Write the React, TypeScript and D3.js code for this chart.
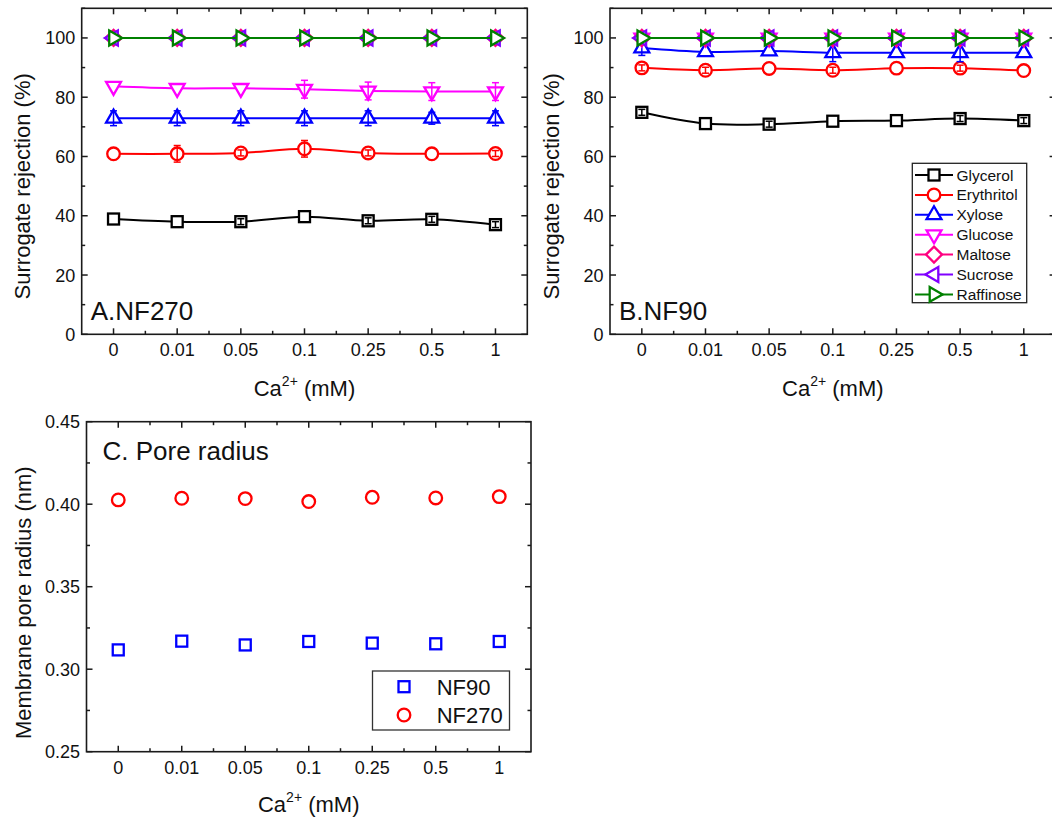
import React from 'react';
import * as d3 from 'd3';

// ---------- data ----------
const categories = ['0', '0.01', '0.05', '0.1', '0.25', '0.5', '1'];
const seriesNames = ['Glycerol', 'Erythritol', 'Xylose', 'Glucose', 'Maltose', 'Sucrose', 'Raffinose'];
const seriesColors = ['#000000', '#ff0000', '#0000ff', '#ff00ff', '#ff0080', '#8000ff', '#008000'];
const seriesShapes = ['square', 'circle', 'up', 'down', 'diamond', 'left', 'right'];

// Panel A: NF270 rejection (%)
const nf270Glycerol = [38.9, 38.0, 38.0, 39.7, 38.3, 38.8, 37.0];
const nf270GlycerolErr = [0, 0, 1, 0, 1, 1, 1];
const nf270Erythritol = [60.9, 60.9, 61.2, 62.6, 61.2, 60.9, 61.0];
const nf270ErythritolErr = [0, 2.8, 1, 2.8, 1, 0, 1];
const nf270Xylose = [72.9, 72.9, 72.9, 72.9, 72.9, 72.9, 72.9];
const nf270XyloseErr = [2.5, 2.5, 2.5, 2.5, 2.5, 2, 2.5];
const nf270Glucose = [83.7, 83.0, 83.0, 82.7, 82.1, 81.9, 81.9];
const nf270GlucoseErr = [0, 0, 0, 3, 3, 3, 3];
const nf270Maltose = [100, 100, 100, 100, 100, 100, 100];
const nf270Sucrose = [100, 100, 100, 100, 100, 100, 100];
const nf270Raffinose = [100, 100, 100, 100, 100, 100, 100];
const nf270NoErr = [0, 0, 0, 0, 0, 0, 0];

// Panel B: NF90 rejection (%)
const nf90Glycerol = [74.9, 71.1, 70.9, 71.9, 72.1, 72.8, 72.1];
const nf90GlycerolErr = [1, 0, 1, 0, 0, 1, 1];
const nf90Erythritol = [89.9, 89.1, 89.7, 89.1, 89.8, 89.8, 89.0];
const nf90ErythritolErr = [1, 1, 0, 1, 0, 1, 0];
const nf90Xylose = [96.6, 95.3, 95.6, 95.0, 95.0, 95.0, 95.0];
const nf90XyloseErr = [2.5, 0, 0, 3, 0, 3, 0];
const nf90Glucose = [100, 100, 100, 100, 100, 100, 100];
const nf90Maltose = [100, 100, 100, 100, 100, 100, 100];
const nf90Sucrose = [100, 100, 100, 100, 100, 100, 100];
const nf90Raffinose = [100, 100, 100, 100, 100, 100, 100];
const nf90NoErr = [0, 0, 0, 0, 0, 0, 0];

// Panel C: pore radius (nm)
const poreNF90 = [0.3117, 0.317, 0.3147, 0.3168, 0.3158, 0.3154, 0.3168];
const poreNF270 = [0.4026, 0.4036, 0.4034, 0.4016, 0.4042, 0.4038, 0.4046];

const rejTicks = [0, 20, 40, 60, 80, 100];
const rejMinor = [10, 30, 50, 70, 90, 110];
const poreTicks = [0.25, 0.3, 0.35, 0.4, 0.45];
const poreMinor = [0.275, 0.325, 0.375, 0.425];

const panelA = [
  [nf270Glycerol, nf270GlycerolErr],
  [nf270Erythritol, nf270ErythritolErr],
  [nf270Xylose, nf270XyloseErr],
  [nf270Glucose, nf270GlucoseErr],
  [nf270Maltose, nf270NoErr],
  [nf270Sucrose, nf270NoErr],
  [nf270Raffinose, nf270NoErr],
];
const panelB = [
  [nf90Glycerol, nf90GlycerolErr],
  [nf90Erythritol, nf90ErythritolErr],
  [nf90Xylose, nf90XyloseErr],
  [nf90Glucose, nf90NoErr],
  [nf90Maltose, nf90NoErr],
  [nf90Sucrose, nf90NoErr],
  [nf90Raffinose, nf90NoErr],
];

const FONT = '"Liberation Sans", Arial, Helvetica, sans-serif';
const AXIS = '#1a1a1a';

function Marker({ shape, x, y, color, sw = 2.3 }: any) {
  const common = { fill: '#fff', stroke: color, strokeWidth: sw, strokeLinejoin: 'miter' as const };
  const tri = (r: number, angles: number[]) =>
    angles.map((a) => `${x + r * Math.cos(a)},${y + r * Math.sin(a)}`).join(' ');
  const d = Math.PI / 180;
  switch (shape) {
    case 'square':
      return <rect x={x - 5.5} y={y - 5.5} width={11} height={11} {...common} />;
    case 'circle':
      return <circle cx={x} cy={y} r={6.3} {...common} />;
    case 'up':
      return <polygon points={tri(8.6, [-90 * d, 30 * d, 150 * d])} {...common} />;
    case 'down':
      return <polygon points={tri(8.6, [90 * d, -30 * d, 210 * d])} {...common} />;
    case 'left':
      return <polygon points={tri(8.6, [180 * d, 60 * d, -60 * d])} {...common} />;
    case 'right':
      return <polygon points={tri(8.6, [0, 120 * d, -120 * d])} {...common} />;
    case 'diamond':
      return <polygon points={`${x},${y - 8} ${x + 8},${y} ${x},${y + 8} ${x - 8},${y}`} {...common} />;
    default:
      return null;
  }
}

function Frame({ left, right, top, bottom, x, y, yTicks, yMinor, fmt }: any) {
  const step = x.step();
  const maj = 6;
  const min = 3.5;
  const els: any[] = [];
  categories.forEach((c, i) => {
    const px = x(c);
    els.push(<line key={'xb' + i} x1={px} x2={px} y1={bottom} y2={bottom - maj} />);
    els.push(<line key={'xt' + i} x1={px} x2={px} y1={top} y2={top + maj} />);
    if (i < categories.length - 1) {
      const mx = px + step / 2;
      els.push(<line key={'xbm' + i} x1={mx} x2={mx} y1={bottom} y2={bottom - min} />);
      els.push(<line key={'xtm' + i} x1={mx} x2={mx} y1={top} y2={top + min} />);
    }
  });
  yTicks.forEach((t: number, i: number) => {
    const py = y(t);
    els.push(<line key={'yl' + i} x1={left} x2={left + maj} y1={py} y2={py} />);
    els.push(<line key={'yr' + i} x1={right} x2={right - maj} y1={py} y2={py} />);
  });
  yMinor.forEach((t: number, i: number) => {
    const py = y(t);
    els.push(<line key={'ylm' + i} x1={left} x2={left + min} y1={py} y2={py} />);
    els.push(<line key={'yrm' + i} x1={right} x2={right - min} y1={py} y2={py} />);
  });
  return (
    <g>
      <g stroke={AXIS} strokeWidth={1.5}>{els}</g>
      <rect x={left} y={top} width={right - left} height={bottom - top} fill="none" stroke={AXIS} strokeWidth={1.6} />
      <g fontFamily={FONT} fontSize={18} fill="#111">
        {categories.map((c, i) => (
          <text key={'xl' + i} x={x(c)} y={bottom + 22} textAnchor="middle">{c}</text>
        ))}
        {yTicks.map((t: number, i: number) => (
          <text key={'ylb' + i} x={left - 6.5} y={y(t)} dy="0.36em" textAnchor="end">{fmt(t)}</text>
        ))}
      </g>
    </g>
  );
}

function XTitle({ cx, baseline }: any) {
  return (
    <text x={cx} y={baseline} textAnchor="middle" fontFamily={FONT} fontSize={22} fill="#111">
      Ca<tspan fontSize={14} dy={-10}>2+</tspan>
      <tspan dy={10}> (mM)</tspan>
    </text>
  );
}

function YTitle({ x, y, label }: any) {
  return (
    <text transform={`translate(${x},${y}) rotate(-90)`} textAnchor="middle" fontFamily={FONT} fontSize={22} fill="#111">
      {label}
    </text>
  );
}

function RejectionPanel({ left, right, top, bottom, data, label, titleX }: any) {
  const x = d3.scalePoint<string>().domain(categories).range([left, right]).padding(0.5);
  const y = d3.scaleLinear().domain([0, 110]).range([bottom, top]);
  const line = d3
    .line<number>()
    .x((_, i) => x(categories[i]) as number)
    .y((v) => y(v))
    .curve(d3.curveCatmullRom.alpha(0.5));
  return (
    <g>
      {data.map(([vals, errs]: any, s: number) => {
        const color = seriesColors[s];
        return (
          <g key={s}>
            <path d={line(vals) || ''} fill="none" stroke={color} strokeWidth={2} />
            {vals.map((v: number, i: number) => (
              <Marker key={'m' + i} shape={seriesShapes[s]} x={x(categories[i])} y={y(v)} color={color} />
            ))}
            <g stroke={color} strokeWidth={1.5}>
              {vals.map((v: number, i: number) => {
                if (!errs[i]) return null;
                const px = x(categories[i]) as number;
                const y1 = y(v - errs[i]);
                const y2 = y(v + errs[i]);
                return (
                  <g key={'e' + i}>
                    <line x1={px} x2={px} y1={y1} y2={y2} />
                    <line x1={px - 3.5} x2={px + 3.5} y1={y1} y2={y1} />
                    <line x1={px - 3.5} x2={px + 3.5} y1={y2} y2={y2} />
                  </g>
                );
              })}
            </g>
          </g>
        );
      })}
      <Frame left={left} right={right} top={top} bottom={bottom} x={x} y={y} yTicks={rejTicks} yMinor={rejMinor} fmt={(t: number) => String(t)} />
      <text x={left + 9} y={bottom - 14.5} fontFamily={FONT} fontSize={26} fill="#111">{label}</text>
      <XTitle cx={(left + right) / 2} baseline={bottom + 62} />
      <YTitle x={titleX} y={(top + bottom) / 2 + 15} label="Surrogate rejection (%)" />
    </g>
  );
}

function PorePanel() {
  const left = 86.5, right = 531, top = 421.7, bottom = 751.7;
  const x = d3.scalePoint<string>().domain(categories).range([left, right]).padding(0.5);
  const y = d3.scaleLinear().domain([0.25, 0.45]).range([bottom, top]);
  return (
    <g>
      <Frame left={left} right={right} top={top} bottom={bottom} x={x} y={y} yTicks={poreTicks} yMinor={poreMinor} fmt={d3.format('.2f')} />
      {poreNF90.map((v, i) => (
        <Marker key={'a' + i} shape="square" x={x(categories[i])} y={y(v)} color="#0000ff" />
      ))}
      {poreNF270.map((v, i) => (
        <Marker key={'b' + i} shape="circle" x={x(categories[i])} y={y(v)} color="#ff0000" />
      ))}
      <text x={102.5} y={460} fontFamily={FONT} fontSize={26} fill="#111">C. Pore radius</text>
      <XTitle cx={(left + right) / 2} baseline={bottom + 60} />
      <YTitle x={31} y={(top + bottom) / 2 + 16} label="Membrane pore radius (nm)" />
      {/* legend */}
      <rect x={372.5} y={671} width={137} height={59} fill="#fff" stroke="#333" strokeWidth={1.3} />
      <Marker shape="square" x={404} y={686.7} color="#0000ff" />
      <Marker shape="circle" x={404} y={715} color="#ff0000" />
      <g fontFamily={FONT} fontSize={22} fill="#111">
        <text x={436.7} y={694.5}>NF90</text>
        <text x={436.7} y={723}>NF270</text>
      </g>
    </g>
  );
}

function LegendB() {
  const bx = 912.3, by = 163.3;
  return (
    <g>
      <rect x={bx} y={by} width={114.4} height={139.4} fill="#fff" stroke="#222" strokeWidth={1.3} />
      {seriesNames.map((n, i) => {
        const cy = 175 + i * 19.9;
        return (
          <g key={n}>
            <line x1={915} x2={953} y1={cy} y2={cy} stroke={seriesColors[i]} strokeWidth={2} />
            <Marker shape={seriesShapes[i]} x={934} y={cy} color={seriesColors[i]} />
            <text x={956.5} y={cy} dy="0.36em" fontFamily={FONT} fontSize={15.5} fill="#111">{n}</text>
          </g>
        );
      })}
    </g>
  );
}

export default function App() {
  return (
    <svg
      width={1052}
      height={821}
      viewBox="0 0 1052 821"
      style={{ position: 'absolute', left: 0, top: 0, background: '#fff' }}
    >
      <rect x={0} y={0} width={1052} height={821} fill="#fff" />
      <RejectionPanel left={81.7} right={527.3} top={8.3} bottom={334.3} data={panelA} label="A.NF270" titleX={30} />
      <RejectionPanel left={610} right={1055.6} top={8.3} bottom={334.3} data={panelB} label="B.NF90" titleX={558.5} />
      <LegendB />
      <PorePanel />
    </svg>
  );
}
